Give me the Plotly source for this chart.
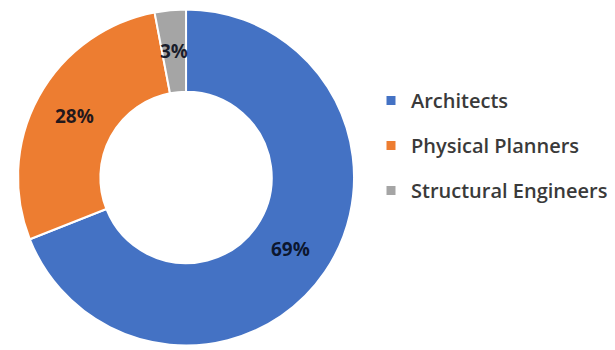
import math
import plotly.graph_objects as go

# Share of professionals by discipline
categories = ["Architects", "Physical Planners", "Structural Engineers"]
shares = [69, 28, 3]
colors = ["#4472C4", "#ED7D31", "#A5A5A5"]

W, H = 615, 350
hole = 0.51

# Donut placement (paper fractions)
dom_x = [0.029, 0.576]
dom_y = [0.013, 0.973]

fig = go.Figure()
fig.add_trace(go.Pie(
    labels=categories,
    values=shares,
    hole=hole,
    sort=False,
    direction="clockwise",
    rotation=0,
    marker=dict(colors=colors, line=dict(color="white", width=2)),
    textinfo="none",
    hoverinfo="label+percent",
    showlegend=False,
    domain=dict(x=dom_x, y=dom_y),
))

# Legend entries with small square keys
for i, (name, col) in enumerate(zip(categories, colors)):
    fig.add_trace(go.Scatter(
        x=[None], y=[None], mode="markers", name=name,
        marker=dict(symbol="square", size=9, color=col),
        legendgroup=f"g{i}", showlegend=True,
    ))

# Percentage labels placed at the middle of each ring segment
cx = (dom_x[0] + dom_x[1]) / 2 * W
cy = (dom_y[0] + dom_y[1]) / 2 * H
outer_r = min((dom_x[1] - dom_x[0]) * W, (dom_y[1] - dom_y[0]) * H) / 2
mid_r = outer_r * (1 + hole) / 2
total = sum(shares)
cum = 0
for v in shares:
    ang = 2 * math.pi * (cum + v / 2) / total
    cum += v
    px = cx + mid_r * math.sin(ang)
    py = cy + mid_r * math.cos(ang)
    fig.add_annotation(
        x=px / W, y=py / H, xref="paper", yref="paper",
        xanchor="center", yanchor="middle",
        text=f"<b>{v}%</b>", showarrow=False,
        font=dict(family="Open Sans", size=19, color="rgba(5,10,25,0.88)"),
    )

fig.update_layout(
    width=W, height=H,
    margin=dict(l=0, r=0, t=0, b=0),
    paper_bgcolor="white", plot_bgcolor="white",
    xaxis=dict(visible=False, domain=[0.99, 1]),
    yaxis=dict(visible=False, domain=[0.99, 1]),
    legend=dict(
        x=371 / W, y=1 - 81 / H, xanchor="left", yanchor="top",
        font=dict(family="Open Sans", size=20, color="#3a3a3a", weight=600),
        tracegroupgap=16, itemwidth=30, bgcolor="rgba(0,0,0,0)",
    ),
)

fig.write_html("out.html")
